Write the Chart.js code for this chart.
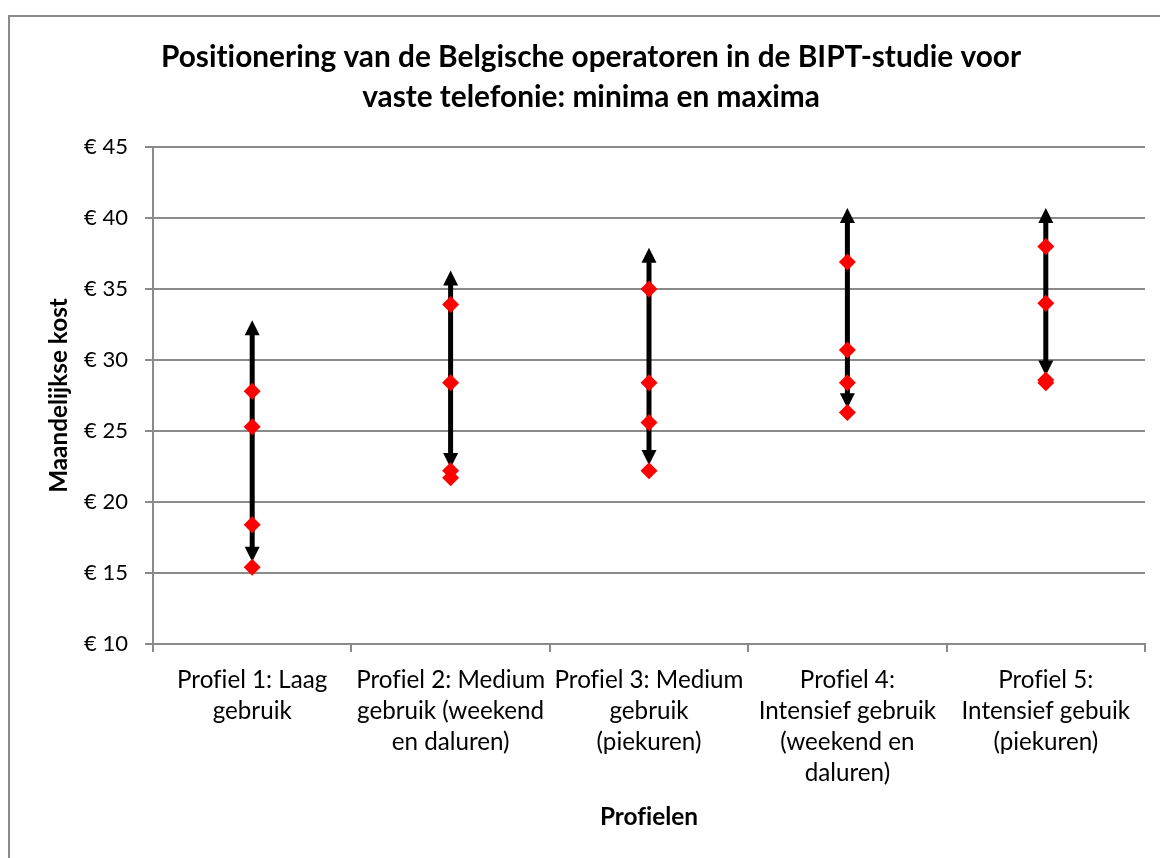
<!DOCTYPE html>
<html lang="nl">
<head>
<meta charset="utf-8">
<title>Positionering van de Belgische operatoren</title>
<script src="https://cdn.jsdelivr.net/npm/chart.js@4"></script>
<style>
  html, body { margin: 0; padding: 0; background: #fff; overflow: hidden; }
  #wrap { position: relative; width: 1160px; height: 858px; }
  #frame {
    position: absolute; left: 8px; top: 15px; width: 1200px; height: 900px;
    border-left: 2px solid #8a8a8a; border-top: 2px solid #8a8a8a;
    pointer-events: none;
  }
  canvas { position: absolute; left: 0; top: 0; font-variant-ligatures: none; }
</style>
</head>
<body>
<div id="wrap">
  <canvas id="costChart" width="1160" height="858"></canvas>
  <div id="frame"></div>
</div>
<script>
const profiles = [
  ["Profiel 1: Laag", "gebruik"],
  ["Profiel 2: Medium", "gebruik (weekend", "en daluren)"],
  ["Profiel 3: Medium", "gebruik", "(piekuren)"],
  ["Profiel 4:", "Intensief gebruik", "(weekend en", "daluren)"],
  ["Profiel 5:", "Intensief gebuik", "(piekuren)"]
];

// range per profile (arrow ends)
const maxima = [32.8, 36.3, 37.9, 40.7, 40.7];
const minima = [15.8, 22.4, 22.6, 26.6, 28.9];

// operator positions per profile
const operatorA = [27.8, 33.9, 35.0, 36.9, 38.0];
const operatorB = [25.3, 28.4, 28.4, 30.7, 34.0];
const operatorC = [18.4, 22.2, 25.6, 28.4, 28.6];
const operatorD = [15.4, 21.7, 22.2, 26.3, 28.4];

const yTicks = [10, 15, 20, 25, 30, 35, 40, 45];

const FONT = "Lato, 'Open Sans', sans-serif";
const GRID = "#8a8a8a";

// no fi-ligatures, like the original
const plainText = {
  id: "plainText",
  beforeInit(chart) {
    chart.ctx.textRendering = "optimizeSpeed";
  },
  beforeDraw(chart) {
    chart.ctx.textRendering = "optimizeSpeed";
  }
};

const arrowPlugin = {
  id: "rangeArrows",
  beforeDatasetsDraw(chart) {
    const { ctx, scales } = chart;
    const head = 15;
    const half = 7.5;
    ctx.save();
    ctx.fillStyle = "#000";
    ctx.strokeStyle = "#000";
    ctx.lineWidth = 5;
    maxima.forEach((top, i) => {
      const x = scales.x.getPixelForValue(i);
      const yTop = scales.y.getPixelForValue(top);
      const yBot = scales.y.getPixelForValue(minima[i]);

      ctx.beginPath();
      ctx.moveTo(x, yTop + head - 1);
      ctx.lineTo(x, yBot - head + 1);
      ctx.stroke();

      ctx.beginPath();
      ctx.moveTo(x, yTop);
      ctx.lineTo(x - half, yTop + head);
      ctx.lineTo(x + half, yTop + head);
      ctx.closePath();
      ctx.fill();

      ctx.beginPath();
      ctx.moveTo(x, yBot);
      ctx.lineTo(x - half, yBot - head);
      ctx.lineTo(x + half, yBot - head);
      ctx.closePath();
      ctx.fill();
    });
    ctx.restore();
  }
};

function operatorSet(label, values) {
  return {
    label,
    data: values,
    showLine: false,
    pointStyle: "rectRot",
    pointRadius: 8.5,
    pointHoverRadius: 8.5,
    backgroundColor: "#ff0000",
    borderColor: "#ff0000",
    borderWidth: 0
  };
}

const chart = new Chart(document.getElementById("costChart"), {
  type: "line",
  data: {
    labels: profiles,
    datasets: [
      operatorSet("Operator A", operatorA),
      operatorSet("Operator B", operatorB),
      operatorSet("Operator C", operatorC),
      operatorSet("Operator D", operatorD)
    ]
  },
  options: {
    responsive: false,
    animation: false,
    layout: {
      padding: { left: 37, right: 15, top: 15, bottom: 0 }
    },
    plugins: {
      legend: { display: false },
      tooltip: { enabled: false },
      title: {
        display: true,
        text: [
          "Positionering van de Belgische operatoren in de BIPT-studie voor",
          "vaste telefonie: minima en maxima"
        ],
        color: "#000",
        font: { family: FONT, size: 29.8, weight: "bold", lineHeight: 40 / 29.8 },
        padding: { top: 22, bottom: 30 }
      }
    },
    scales: {
      x: {
        type: "category",
        offset: true,
        grid: {
          offset: true,
          drawOnChartArea: false,
          drawTicks: true,
          tickLength: 8,
          color: GRID,
          lineWidth: 2
        },
        border: { display: true, color: GRID, width: 2 },
        ticks: {
          color: "#000",
          font: { family: FONT, size: 24.2, lineHeight: 31 / 24.2 },
          padding: 13,
          maxRotation: 0,
          minRotation: 0,
          autoSkip: false
        },
        title: {
          display: true,
          text: "Profielen",
          color: "#000",
          font: { family: FONT, size: 24.4, weight: "bold", lineHeight: 29 / 24.4 },
          padding: { top: 12, bottom: 26.5 }
        },
        afterFit(scale) {
          scale.height = 214;
        }
      },
      y: {
        min: yTicks[0],
        max: yTicks[yTicks.length - 1],
        afterBuildTicks(scale) {
          scale.ticks = yTicks.map((v) => ({ value: v }));
        },
        grid: {
          color: GRID,
          lineWidth: 2,
          tickLength: 8,
          drawTicks: true
        },
        border: { display: true, color: GRID, width: 2 },
        ticks: {
          color: "#000",
          font: { family: FONT, size: 22 },
          padding: 17,
          callback(value) {
            return "€ " + value;
          }
        },
        title: {
          display: true,
          text: "Maandelijkse kost",
          color: "#000",
          font: { family: FONT, size: 24.3, weight: "bold", lineHeight: 29 / 24.3 },
          padding: { top: 8, bottom: 0 }
        },
        afterFit(scale) {
          scale.width = 116;
        }
      }
    }
  },
  plugins: [plainText, arrowPlugin]
});
</script>
</body>
</html>
